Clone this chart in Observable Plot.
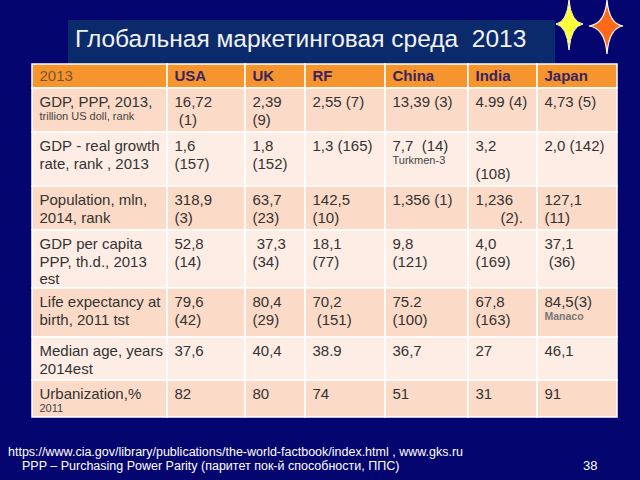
<!DOCTYPE html>
<html><head><meta charset="utf-8">
<script src="https://cdn.jsdelivr.net/npm/d3@7"></script>
<script src="https://cdn.jsdelivr.net/npm/@observablehq/plot@0.6"></script>
<style>
html,body{margin:0;padding:0;background:#04056e;}
#slide{position:relative;width:640px;height:480px;overflow:hidden;background:#04056e;font-family:"Liberation Sans",Arial,sans-serif;}
#titlebox{position:absolute;left:68px;top:20px;width:487px;height:44px;background:#0b2a6b;}
#title{position:absolute;left:75px;top:21px;color:#f2f2f2;font-size:24.5px;line-height:36px;white-space:pre;}
#table{position:absolute;left:32px;top:64px;}
#stars{position:absolute;left:0;top:0;}
.foot{position:absolute;color:#fff;font-size:12.5px;white-space:pre;line-height:14px;}
</style></head><body><div id="slide">
<div id="titlebox"></div>
<div id="title">Глобальная маркетинговая среда  2013</div>
<svg id="stars" width="640" height="64">
  <path d="M569,0 Q571,22 583,24 Q571,26 569,50 Q567,26 556,24 Q567,22 569,0Z" fill="#ffff3a" stroke="#ffffcc" stroke-width="1"/>
  <path d="M607,0 Q609,24 623,26 Q609,28 607,54 Q605,28 589,26 Q605,24 607,0Z" fill="#ff6a18" stroke="#ffffff" stroke-width="1.2"/>
</svg>
<div id="table"></div>
<div class="foot" id="f1" style="left:8px;top:445px;">https://www.cia.gov/library/publications/the-world-factbook/index.html , www.gks.ru</div>
<div class="foot" id="f2" style="left:22px;top:459px;">PPP – Purchasing Power Parity (паритет пок-й способности, ППС)</div>
<div class="foot" style="left:583px;top:459px;font-size:13px;">38</div>
</div>
<script>
// ---- data ----
const corner = "2013";
const countries = ["USA", "UK", "RF", "China", "India", "Japan"];
const rowLabels = [
  "GDP, PPP, 2013,",
  "GDP - real growth\nrate, rank , 2013",
  "Population, mln,\n2014, rank",
  "GDP per capita\nPPP, th.d., 2013\nest",
  "Life expectancy at\nbirth, 2011 tst",
  "Median age, years\n2014est",
  "Urbanization,%"
];
const rowNotes = ["trillion US doll, rank", null, null, null, null, null, "2011"];
const usa   = ["16,72\n (1)", "1,6\n(157)", "318,9\n(3)", "52,8\n(14)", "79,6\n(42)", "37,6", "82"];
const uk    = ["2,39\n(9)", "1,8\n(152)", "63,7\n(23)", " 37,3\n(34)", "80,4\n(29)", "40,4", "80"];
const rf    = ["2,55 (7)", "1,3 (165)", "142,5\n(10)", "18,1\n(77)", "70,2\n (151)", "38.9", "74"];
const china = ["13,39 (3)", "7,7  (14)", "1,356 (1)", "9,8\n(121)", "75.2\n(100)", "36,7", "51"];
const india = ["4.99 (4)", "3,2\n(108)", "1,236\n      (2).", "4,0\n(169)", "67,8\n(163)", "27", "31"];
const japan = ["4,73 (5)", "2,0 (142)", "127,1\n(11)", "37,1\n (36)", "84,5(3)", "46,1", "91"];
const cellNotes = [
  {row: 1, country: "China", text: "Turkmen-3", bold: false},
  {row: 1, country: "India", text: "", bold: false},
  {row: 4, country: "Japan", text: "Manaco", bold: true}
];
const values = [usa, uk, rf, china, india, japan];

// ---- layout (pixels of the table) ----
const colWidths = [135, 78, 60, 80, 83, 69, 80];
const rowHeights = [24, 44, 54, 44, 58, 49, 43, 37];
const colEdges = Array.from(d3.cumsum([0, ...colWidths]));
const rowEdges = Array.from(d3.cumsum([0, ...rowHeights]));
const W = colEdges[colEdges.length - 1], H = rowEdges[rowEdges.length - 1];
const PAD_TOP = 8, LINE = 17.5, NOTE_OFF = 16, AFTER_NOTE = 28;
const nb = s => s.replace(/ /g, "\u00a0");

const cells = [];
for (let r = 0; r < rowHeights.length; r++)
  for (let c = 0; c < colWidths.length; c++)
    cells.push({x1: colEdges[c], x2: colEdges[c + 1], y1: rowEdges[r], y2: rowEdges[r + 1],
      fill: r === 0 ? "#f6952d" : (r % 2 ? "#fbdac7" : "#fdede5")});

const mainLines = [], notes = [], boldNotes = [];
function place(col, row, str, note) {
  const top = rowEdges[row + 1] + PAD_TOP;
  const parts = str.split("\n");
  parts.forEach((t, i) => {
    let y = top + i * LINE;
    if (note && i > 0) y = top + AFTER_NOTE + (i - 1) * LINE;
    mainLines.push({x: colEdges[col], y, text: nb(t)});
  });
  if (note && note.text) (note.bold ? boldNotes : notes).push({x: colEdges[col], y: top + NOTE_OFF, text: nb(note.text)});
}
rowLabels.forEach((l, r) => place(0, r, l, rowNotes[r] ? {text: rowNotes[r]} : null));
values.forEach((vals, ci) => vals.forEach((v, r) => {
  const n = cellNotes.find(d => d.row === r && d.country === countries[ci]);
  place(ci + 1, r, v, n);
}));
const heads = countries.map((c, i) => ({x: colEdges[i + 1], y: rowHeights[0] / 2, text: c}));

const chart = Plot.plot({
  width: W, height: H,
  margin: 0,
  x: {type: "linear", domain: [0, W], range: [0, W], axis: null},
  y: {type: "linear", domain: [0, H], range: [0, H], axis: null},
  color: {type: "identity"},
  style: {fontFamily: "'Liberation Sans', Arial, sans-serif", background: "transparent", overflow: "visible"},
  marks: [
    Plot.rect(cells, {x1: "x1", x2: "x2", y1: "y1", y2: "y2", fill: "fill", stroke: "#ffffff", strokeWidth: 1.5}),
    Plot.text([{x: 0, y: rowHeights[0] / 2, text: corner}], {x: "x", y: "y", text: "text", textAnchor: "start", lineAnchor: "middle", dx: 7, fontSize: 15, fill: "#7a5535"}),
    Plot.text(heads, {x: "x", y: "y", text: "text", textAnchor: "start", lineAnchor: "middle", dx: 7, fontSize: 15, fontWeight: "bold", fill: "#3a2461"}),
    Plot.text(mainLines, {x: "x", y: "y", text: "text", textAnchor: "start", lineAnchor: "top", dx: 7, fontSize: 15, fill: "#333333"}),
    Plot.text(notes, {x: "x", y: "y", text: "text", textAnchor: "start", lineAnchor: "top", dx: 7, fontSize: 11, fill: "#444444"}),
    Plot.text(boldNotes, {x: "x", y: "y", text: "text", textAnchor: "start", lineAnchor: "top", dx: 7, fontSize: 10.5, fontWeight: "bold", fill: "#777777"})
  ]
});
document.getElementById("table").appendChild(chart);
</script>
</body></html>
